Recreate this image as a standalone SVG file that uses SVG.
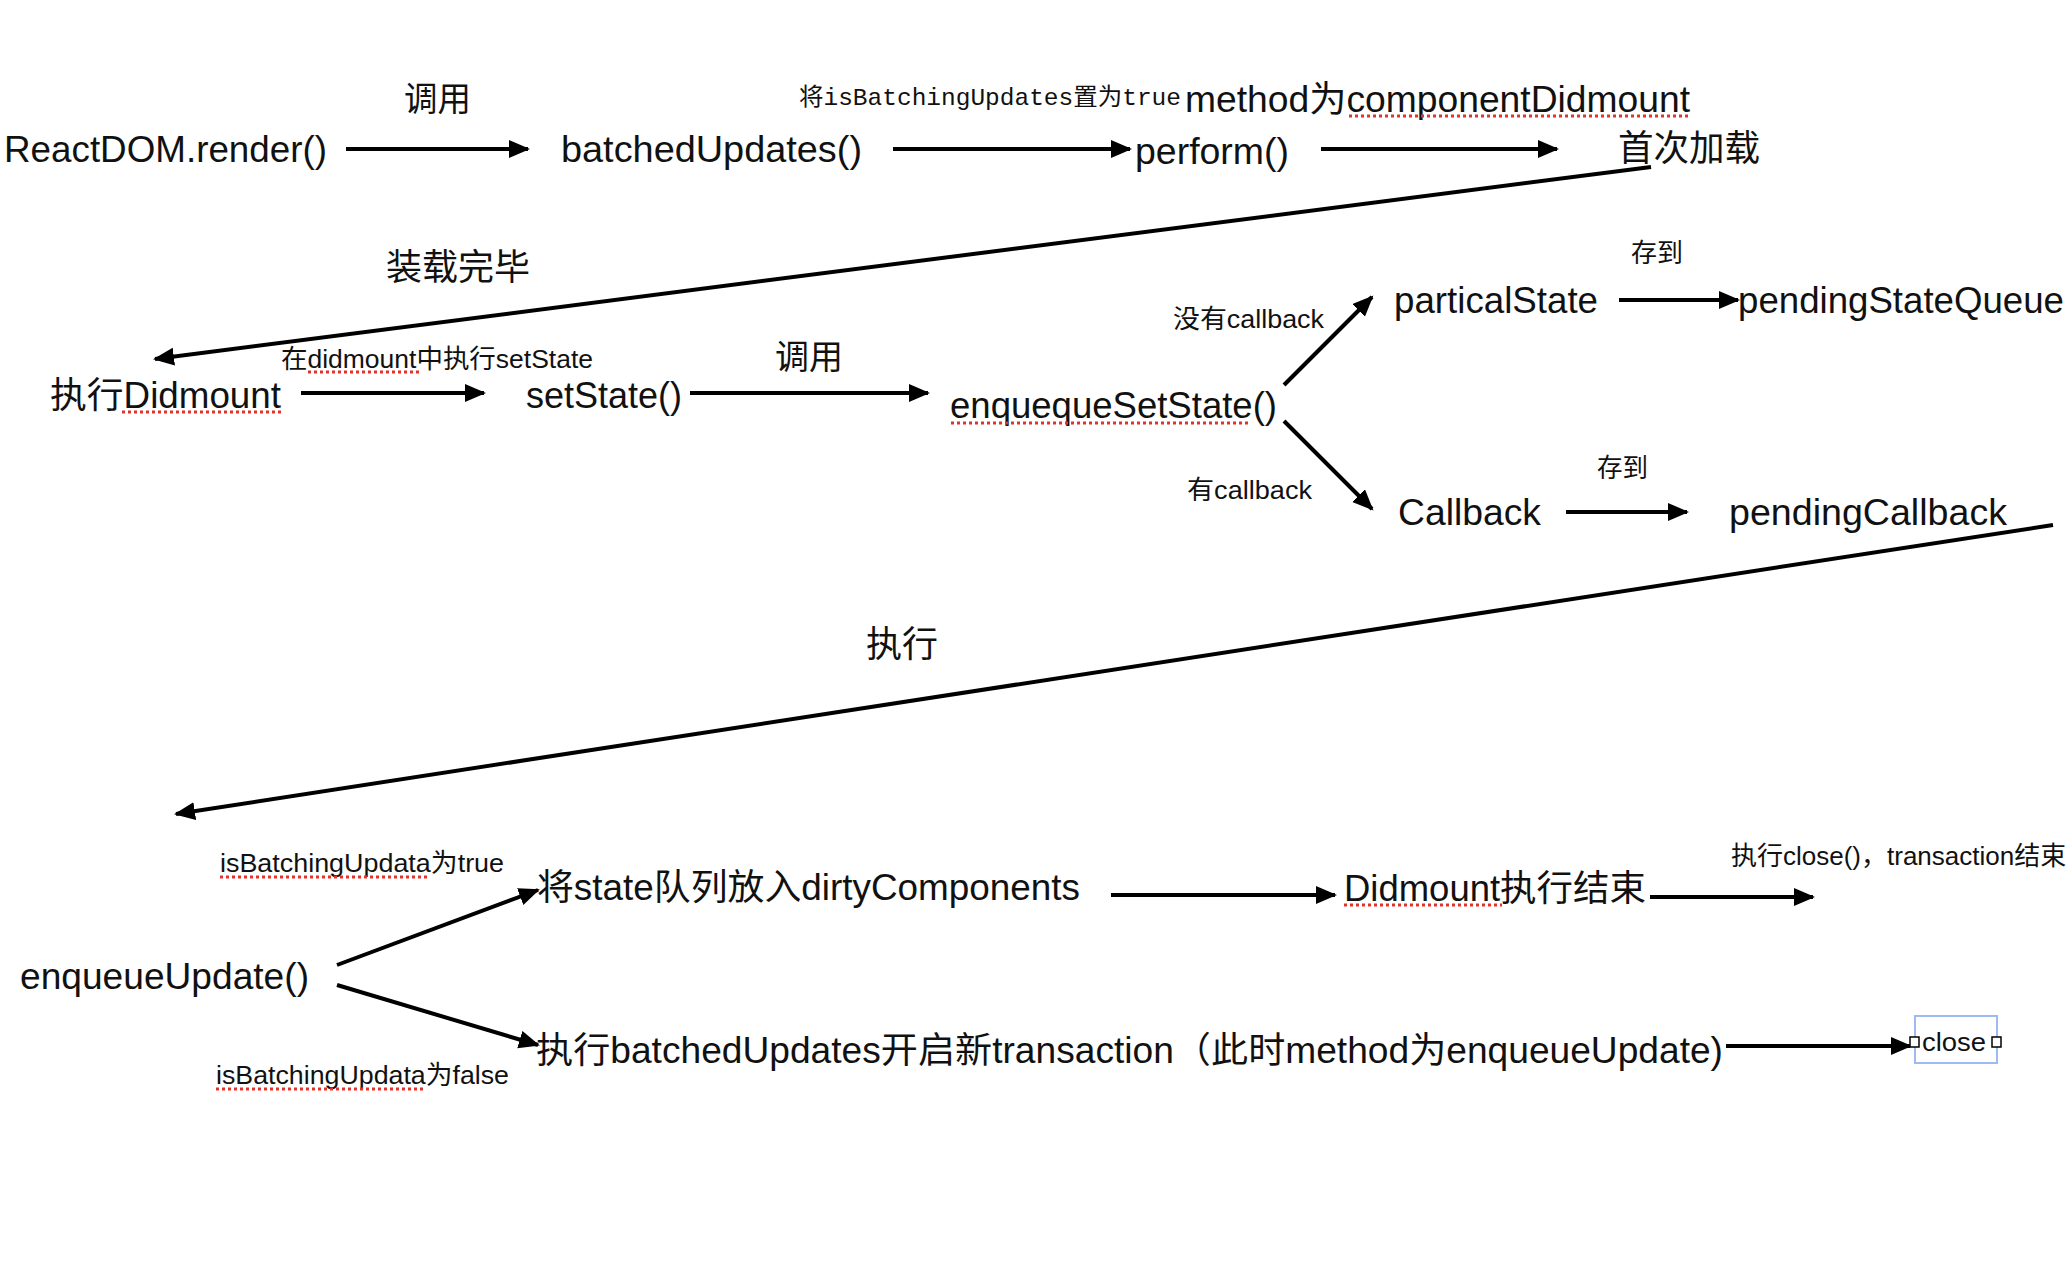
<svg xmlns="http://www.w3.org/2000/svg" width="2070" height="1272" viewBox="0 0 2070 1272">
<defs>
<style>
text{font-family:"Liberation Sans","Noto Sans CJK SC",sans-serif;fill:#111;}
.big{font-size:36px;}
.mid{font-size:34px;}
.sm{font-size:26px;}
.mono{font-family:"Liberation Mono","Noto Sans CJK SC",monospace;font-size:24px;}
.conn line{stroke:#000;stroke-width:4;fill:none;marker-end:url(#ah);}
.ul{stroke:#e2332a;stroke-width:3;stroke-dasharray:3 3;}
</style>
<marker id="ah" markerUnits="userSpaceOnUse" markerWidth="22" markerHeight="20" refX="19" refY="9" orient="auto">
<path d="M0,0 L21,9 L0,18 z" fill="#000"/>
</marker>
</defs>
<rect width="2070" height="1272" fill="#fff"/>

<g id="connectors" class="conn">
<line x1="346" y1="149" x2="528" y2="149"/>
<line x1="893" y1="149" x2="1130" y2="149"/>
<line x1="1321" y1="149" x2="1557" y2="149"/>
<line x1="1651" y1="167" x2="155" y2="359"/>
<line x1="301" y1="393" x2="484" y2="393"/>
<line x1="690" y1="393" x2="928" y2="393"/>
<line x1="1284" y1="385" x2="1372" y2="297"/>
<line x1="1284" y1="421" x2="1372" y2="509"/>
<line x1="1619" y1="300" x2="1738" y2="300"/>
<line x1="1566" y1="512" x2="1687" y2="512"/>
<line x1="2053" y1="525" x2="176" y2="814"/>
<line x1="337" y1="965" x2="538" y2="890"/>
<line x1="337" y1="985" x2="538" y2="1045"/>
<line x1="1111" y1="895" x2="1335" y2="895"/>
<line x1="1650" y1="897" x2="1813" y2="897"/>
<line x1="1726" y1="1046" x2="1910" y2="1046"/>
</g>

<g id="labels">
<text class="mid" x="404" y="111" textLength="67" lengthAdjust="spacingAndGlyphs">调用</text>
<text class="mono" x="799" y="105" textLength="382" lengthAdjust="spacingAndGlyphs">将isBatchingUpdates置为true</text>
<text class="big" x="1185" y="112" textLength="505" lengthAdjust="spacingAndGlyphs">method为componentDidmount</text>
<line class="ul" x1="1349" y1="116" x2="1689" y2="116"/>
<text class="big" x="386" y="280" textLength="144" lengthAdjust="spacingAndGlyphs">装载完毕</text>
<text class="sm" x="281" y="368" textLength="312" lengthAdjust="spacingAndGlyphs">在didmount中执行setState</text>
<line class="ul" x1="308" y1="372" x2="419" y2="372"/>
<text class="mid" x="775" y="369" textLength="68" lengthAdjust="spacingAndGlyphs">调用</text>
<text class="sm" x="1173" y="328" textLength="151" lengthAdjust="spacingAndGlyphs">没有callback</text>
<text class="sm" x="1187" y="499" textLength="125" lengthAdjust="spacingAndGlyphs">有callback</text>
<text class="sm" x="1631" y="262" textLength="52" lengthAdjust="spacingAndGlyphs">存到</text>
<text class="sm" x="1597" y="477" textLength="51" lengthAdjust="spacingAndGlyphs">存到</text>
<text class="big" x="866" y="657" textLength="72" lengthAdjust="spacingAndGlyphs">执行</text>
<text class="sm" x="220" y="872" textLength="284" lengthAdjust="spacingAndGlyphs">isBatchingUpdata为true</text>
<line class="ul" x1="220" y1="877" x2="429" y2="877"/>
<text class="sm" x="216" y="1084" textLength="293" lengthAdjust="spacingAndGlyphs">isBatchingUpdata为false</text>
<line class="ul" x1="216" y1="1089" x2="424" y2="1089"/>
<text class="sm" x="1731" y="865">执行close()，transaction结束</text>
</g>

<g id="n-reactdom"><text class="big" x="4" y="162" textLength="323" lengthAdjust="spacingAndGlyphs">ReactDOM.render()</text></g>
<g id="n-batchedupdates"><text class="big" x="561" y="162" textLength="301" lengthAdjust="spacingAndGlyphs">batchedUpdates()</text></g>
<g id="n-perform"><text class="big" x="1135" y="164" textLength="154" lengthAdjust="spacingAndGlyphs">perform()</text></g>
<g id="n-firstload"><text class="big" x="1618" y="161" textLength="142" lengthAdjust="spacingAndGlyphs">首次加载</text></g>
<g id="n-didmount">
<text class="big" x="50" y="408" textLength="231" lengthAdjust="spacingAndGlyphs">执行Didmount</text>
<line class="ul" x1="122" y1="412" x2="281" y2="412"/>
</g>
<g id="n-setstate"><text class="big" x="526" y="408" textLength="156" lengthAdjust="spacingAndGlyphs">setState()</text></g>
<g id="n-enqueuesetstate">
<text class="big" x="950" y="418" textLength="327" lengthAdjust="spacingAndGlyphs">enquequeSetState()</text>
<line class="ul" x1="951" y1="423" x2="1248" y2="423"/>
</g>
<g id="n-partialstate"><text class="big" x="1394" y="313" textLength="204" lengthAdjust="spacingAndGlyphs">particalState</text></g>
<g id="n-pendingstatequeue"><text class="big" x="1738" y="313" textLength="326" lengthAdjust="spacingAndGlyphs">pendingStateQueue</text></g>
<g id="n-callback"><text class="big" x="1398" y="525" textLength="143" lengthAdjust="spacingAndGlyphs">Callback</text></g>
<g id="n-pendingcallback"><text class="big" x="1729" y="525" textLength="278" lengthAdjust="spacingAndGlyphs">pendingCallback</text></g>
<g id="n-enqueueupdate"><text class="big" x="20" y="989" textLength="289" lengthAdjust="spacingAndGlyphs">enqueueUpdate()</text></g>
<g id="n-dirty"><text class="big" x="537" y="900" textLength="543" lengthAdjust="spacingAndGlyphs">将state队列放入dirtyComponents</text></g>
<g id="n-didmountend">
<text class="big" x="1344" y="901" textLength="302" lengthAdjust="spacingAndGlyphs">Didmount执行结束</text>
<line class="ul" x1="1344" y1="905" x2="1502" y2="905"/>
</g>
<g id="n-newtransaction"><text class="big" x="536" y="1063" textLength="1187" lengthAdjust="spacingAndGlyphs">执行batchedUpdates开启新transaction（此时method为enqueueUpdate)</text></g>
<g id="n-close">
<rect x="1915" y="1016" width="82" height="47" fill="none" stroke="#9dbaf2" stroke-width="2"/>
<text class="sm" x="1922" y="1051" textLength="64" lengthAdjust="spacingAndGlyphs">close</text>
<rect x="1910" y="1037" width="9" height="10" fill="#fff" stroke="#000" stroke-width="1.5"/>
<rect x="1992" y="1037" width="9" height="10" fill="#fff" stroke="#000" stroke-width="1.5"/>
</g>
</svg>
